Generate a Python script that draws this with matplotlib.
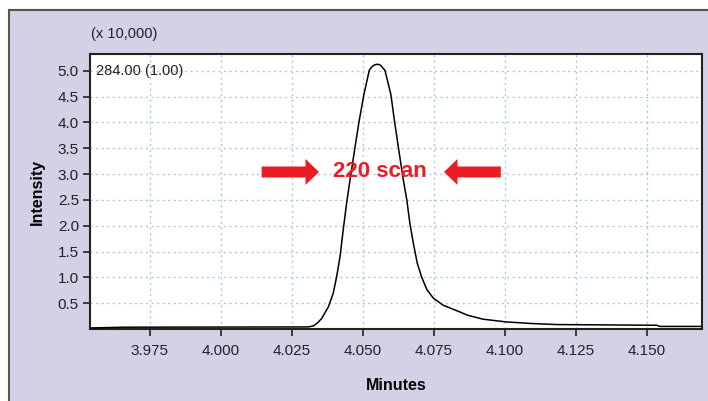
import matplotlib
matplotlib.use("Agg")
import matplotlib.pyplot as plt
from matplotlib.patches import Rectangle
from matplotlib import font_manager

# retention time (minutes) and intensity (x 10,000)
minutes = [3.9539, 3.9662, 4.0299, 4.0312, 4.0325, 4.0338, 4.0354, 4.0378,
           4.0395, 4.0407, 4.0419, 4.0430, 4.0442, 4.0454, 4.0472, 4.0487,
           4.0503, 4.0522, 4.0530, 4.0538, 4.0545, 4.0551, 4.0557, 4.0563,
           4.0567, 4.0577, 4.0598, 4.0610, 4.0624, 4.0642, 4.0654, 4.0665,
           4.0677, 4.0691, 4.0706, 4.0724, 4.0747, 4.0782, 4.0841, 4.0866,
           4.0922, 4.1006, 4.1098, 4.1182, 4.1534, 4.1545, 4.1693]
intensity = [0.02, 0.035, 0.04, 0.045, 0.06, 0.11, 0.20, 0.43,
             0.69, 1.01, 1.40, 1.91, 2.43, 2.88, 3.53, 4.05,
             4.54, 5.01, 5.07, 5.105, 5.12, 5.125, 5.12, 5.10,
             5.07, 5.01, 4.54, 4.05, 3.53, 2.88, 2.50, 2.04,
             1.66, 1.27, 1.01, 0.77, 0.60, 0.46, 0.33, 0.27,
             0.19, 0.136, 0.105, 0.086, 0.072, 0.05, 0.05]

x_ticks = [3.975, 4.000, 4.025, 4.050, 4.075, 4.100, 4.125, 4.150]
y_ticks = [0.5, 1.0, 1.5, 2.0, 2.5, 3.0, 3.5, 4.0, 4.5, 5.0]

BG = '#d4d1e7'
RED = '#ec1c24'

names = {f.name for f in font_manager.fontManager.ttflist}
FONT = [n for n in ['Liberation Sans Narrow', 'Liberation Sans'] if n in names] + ['DejaVu Sans']
plt.rcParams['font.family'] = FONT

fig = plt.figure(figsize=(7.08, 4.01), dpi=100)
fig.patch.set_facecolor('white')
# lavender panel with a grey frame on the left/top
panel = Rectangle((9 / 708, -0.1), 1.1, (401 - 10) / 401 + 0.1,
                  transform=fig.transFigure, facecolor=BG,
                  edgecolor='#555555', linewidth=1.5, zorder=-10)
fig.add_artist(panel)

ax = fig.add_axes([90 / 708, (401 - 329) / 401, 612 / 708, 275 / 401])
ax.set_zorder(5)
ax.set_facecolor('white')
ax.plot(minutes, intensity, color='black', linewidth=1.1, zorder=3,
        solid_joinstyle='round')

ax.set_xlim(3.9539, 4.1693)
ax.set_ylim(0.0, 5.324)
ax.set_xticks(x_ticks)
ax.set_xticklabels([f"{t:.3f}" for t in x_ticks])
ax.set_yticks(y_ticks)
ax.set_yticklabels([f"{t:.1f}" for t in y_ticks])
ax.tick_params(axis='both', length=5, width=1.2, color='#222222',
               labelsize=11, labelcolor='#222222')
ax.tick_params(axis='x', pad=6)
ax.tick_params(axis='y', pad=3)
ax.grid(True, color='#a9c7e6', linestyle=(0, (1.5, 2.5)), linewidth=1.0)
ax.set_axisbelow(True)
for s in ax.spines.values():
    s.set_color('#222222')
    s.set_linewidth(1.5)

ax.set_xlabel('Minutes', fontsize=11.5, fontweight='bold', labelpad=14)
ax.set_ylabel('Intensity', fontsize=11.5, fontweight='bold', labelpad=9)

fig.text(91 / 708, 1 - 34 / 401, '(x 10,000)', fontsize=10.5, va='center',
         ha='left', color='#222222')
ax.text(0.01, 0.94, '284.00 (1.00)', transform=ax.transAxes, fontsize=10.5,
        va='center', ha='left', color='#222222')

# "220 scan" marker with arrows
ax.text(4.0561, 3.04, '220 scan', color=RED, fontsize=16, fontweight='bold',
        ha='center', va='center')
arrow = dict(arrowstyle='simple,head_length=9.7,head_width=18.7,tail_width=7.9',
             mutation_scale=1, color=RED, lw=0, shrinkA=0, shrinkB=0)
ax.annotate('', xy=(4.0345, 3.04), xytext=(4.0143, 3.04), arrowprops=arrow)
ax.annotate('', xy=(4.0785, 3.04), xytext=(4.0985, 3.04), arrowprops=arrow)

fig.savefig('out.png', dpi=100, facecolor=fig.get_facecolor())
